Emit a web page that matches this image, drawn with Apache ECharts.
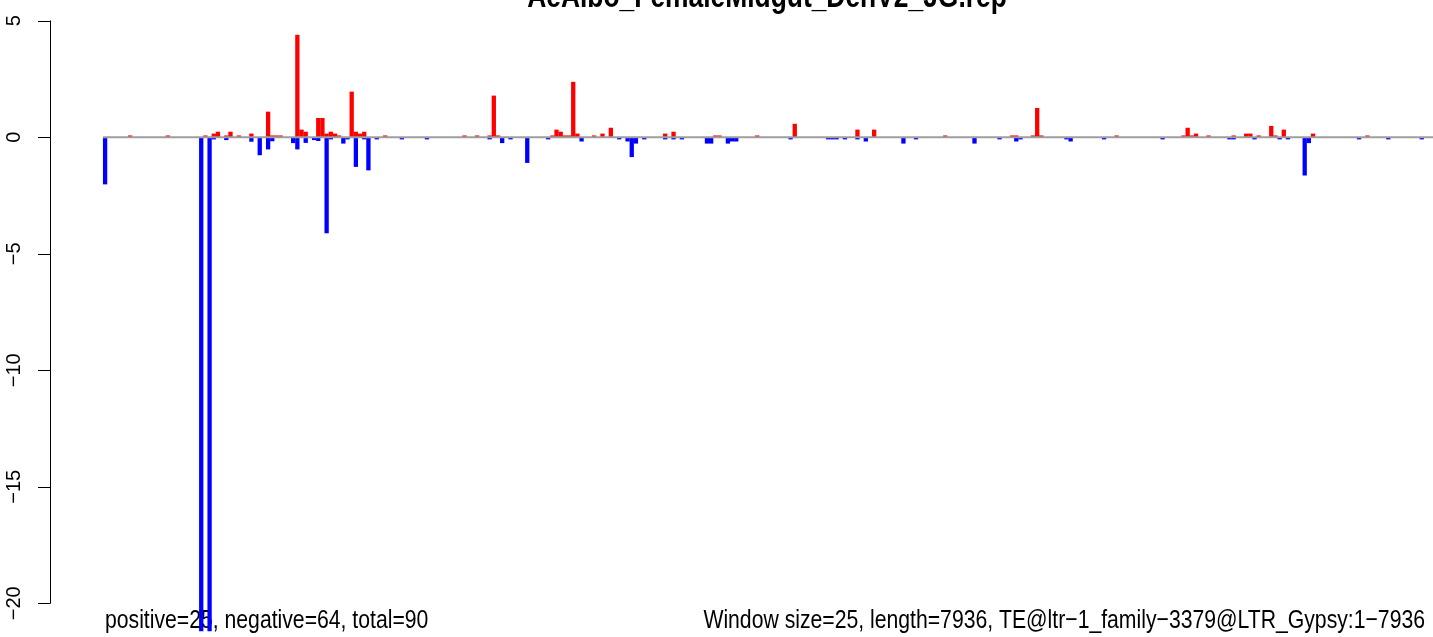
<!DOCTYPE html>
<html><head><meta charset="utf-8">
<script src="https://cdn.jsdelivr.net/npm/echarts@6/dist/echarts.min.js"></script>
<style>html,body{margin:0;padding:0;background:#fff}#c{width:1433px;height:637px}</style>
</head><body><div id="c"></div>
<script>
const chartTitle = 'AeAlbo_FemaleMidgut_DenV2_JG.rep';
const leftNote = 'positive=25, negative=64, total=90';
const rightNote = 'Window size=25, length=7936, TE@ltr\u22121_family\u22123379@LTR_Gypsy:1\u22127936';
const windowCount = 317;
const yTickMin = -20, yTickMax = 5, yTickStep = 5;

// windows (index of 25-bp window) with positive signal and their values
const posWindows = [6,15,24,26,27,29,30,32,35,39,40,41,42,46,47,48,51,52,53,54,55,56,59,60,61,62,67,86,89,92,93,94,
  107,108,109,110,111,112,113,117,119,121,134,136,146,147,156,165,180,184,201,217,218,222,223,224,242,
  258,259,260,261,264,270,273,274,276,279,280,282,289,302];
const posValues = [0.08,0.08,0.08,0.16,0.24,0.08,0.24,0.08,0.16,1.10,0.08,0.08,0.08,4.40,0.33,0.24,0.83,0.83,0.16,0.24,0.16,0.08,1.96,0.24,0.16,0.24,0.08,0.08,0.08,0.08,1.79,0.08,
  0.08,0.33,0.24,0.08,0.08,2.38,0.16,0.08,0.16,0.41,0.16,0.24,0.08,0.08,0.08,0.58,0.33,0.33,0.08,0.08,0.08,0.08,1.26,0.08,0.08,
  0.08,0.41,0.08,0.16,0.08,0.08,0.16,0.16,0.08,0.49,0.08,0.33,0.16,0.08];

// windows with negative signal and their values
const negWindows = [0,23,25,26,29,35,37,39,40,45,46,48,50,51,53,54,57,58,60,62,63,65,71,77,92,95,97,101,106,114,
  123,125,126,127,129,134,136,138,144,145,149,150,151,164,173,174,175,177,180,182,191,194,208,214,218,219,
  230,231,239,253,269,270,275,281,283,287,288,300,307,315];
const negValues = [-2.02,-21.2,-21.2,-0.09,-0.12,-0.19,-0.77,-0.52,-0.17,-0.25,-0.52,-0.24,-0.12,-0.16,-4.12,-0.09,-0.27,-0.09,-1.27,-0.09,-1.42,-0.09,-0.09,-0.09,-0.09,-0.25,-0.09,-1.10,-0.09,-0.18,
  -0.09,-0.18,-0.85,-0.27,-0.09,-0.09,-0.09,-0.09,-0.27,-0.27,-0.27,-0.18,-0.18,-0.09,-0.09,-0.09,-0.09,-0.09,-0.09,-0.18,-0.27,-0.09,-0.27,-0.09,-0.18,-0.09,
  -0.09,-0.18,-0.09,-0.09,-0.09,-0.09,-0.09,-0.09,-0.09,-1.64,-0.25,-0.09,-0.09,-0.09];

const posData = posWindows.map((w, k) => [w, posValues[k]]);
const negData = negWindows.map((w, k) => [w, negValues[k]]);

// layout constants (pixels)
const W = 1433, H = 637;
const axisX = 50;
const barsLeft = 103, barsSpan = 1325;
const pxPerWin = barsSpan / windowCount;
const xMin = -0.5, xMax = -0.5 + (W - barsLeft) / pxPerWin;
const zeroY = 137.3, pxPerUnit = 23.3;
const dataMax = 5.6, dataMin = -21.2;
const gridTop = zeroY - dataMax * pxPerUnit;
const gridBottom = H - (zeroY - dataMin * pxPerUnit);
const axisTop = zeroY - yTickMax * pxPerUnit;
const axisHeight = (yTickMax - yTickMin) * pxPerUnit;

// text: Helvetica-like, slightly stretched vertically as in the reference picture
const textFont = "'Liberation Sans', Arial, sans-serif";
const stretch = 1.25;
const bodySize = 21.2, titleSize = 26.4;
const baselineShift = fs => 0.3465 * fs * stretch;

const chart = echarts.init(document.getElementById('c'), null, {renderer: 'canvas'});
chart.setOption({
  animation: false,
  backgroundColor: '#ffffff',
  graphic: [
    {type: 'text', x: 767, y: 9.3 - baselineShift(titleSize), scaleY: stretch, silent: true,
     style: {text: chartTitle, fontFamily: textFont, fontWeight: 'bold', fontSize: titleSize, fill: '#000', align: 'center', verticalAlign: 'middle'}},
    {type: 'text', x: 105, y: 630 - baselineShift(bodySize), scaleY: stretch, silent: true,
     style: {text: leftNote, fontFamily: textFont, fontSize: bodySize, fill: '#000', align: 'left', verticalAlign: 'middle'}},
    {type: 'text', x: 1425, y: 630 - baselineShift(bodySize), scaleY: stretch, silent: true,
     style: {text: rightNote, fontFamily: textFont, fontSize: bodySize, fill: '#000', align: 'right', verticalAlign: 'middle'}}
  ],
  grid: [
    {left: barsLeft, right: 0, top: gridTop, bottom: gridBottom, containLabel: false},
    {left: axisX, right: 0, top: axisTop, height: axisHeight, containLabel: false}
  ],
  xAxis: [
    {type: 'value', gridIndex: 0, min: xMin, max: xMax, show: false},
    {type: 'value', gridIndex: 1, min: 0, max: 1, show: false}
  ],
  yAxis: [
    {type: 'value', gridIndex: 0, min: dataMin, max: dataMax, show: false},
    {type: 'value', gridIndex: 1, min: yTickMin, max: yTickMax, interval: yTickStep,
     axisLine: {show: true, lineStyle: {color: '#000', width: 1}},
     axisTick: {show: true, length: 12, lineStyle: {color: '#000', width: 1}},
     splitLine: {show: false},
     axisLabel: {rotate: 90, margin: 26, color: '#000', fontSize: 20, fontFamily: textFont,
       formatter: v => String(v).replace('-', '\u2212')}}
  ],
  series: [
    {type: 'bar', name: 'positive', xAxisIndex: 0, yAxisIndex: 0, data: posData, barWidth: 4.3, barGap: '-100%',
     itemStyle: {color: '#ff0000'}, z: 2, silent: true},
    {type: 'bar', name: 'negative', xAxisIndex: 0, yAxisIndex: 0, data: negData, barWidth: 4.3, barGap: '-100%',
     itemStyle: {color: '#0000ff'}, z: 2, silent: true},
    {type: 'line', name: 'zero', xAxisIndex: 0, yAxisIndex: 0, data: [[xMin, 0], [xMax, 0]], symbol: 'none',
     lineStyle: {color: '#9e9e9e', width: 2}, z: 3, silent: true}
  ]
});
</script></body></html>
